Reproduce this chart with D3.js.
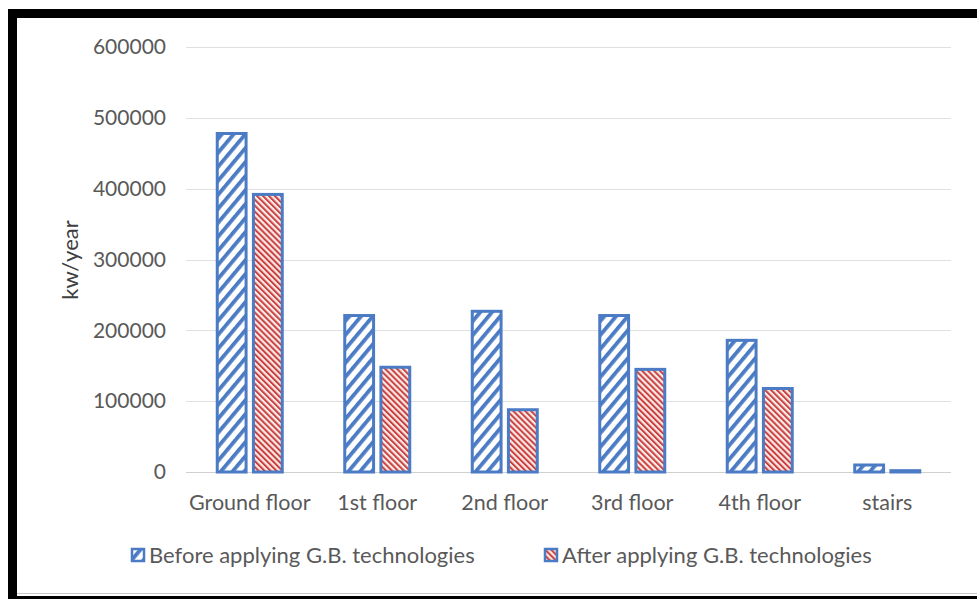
<!DOCTYPE html>
<html>
<head>
<meta charset="utf-8">
<script src="https://cdn.jsdelivr.net/npm/d3@7"></script>
<style>
  html, body { margin: 0; padding: 0; background: #fff; }
  svg { display: block; font-family: Lato, "Open Sans", sans-serif; }
</style>
</head>
<body>
<svg id="chart" width="977" height="599"></svg>
<script>
// Energy use per floor (kw/year), before and after G.B. technologies
const categories = ["Ground floor", "1st floor", "2nd floor", "3rd floor", "4th floor", "stairs"];
const seriesNames = ["Before applying G.B. technologies", "After applying G.B. technologies"];
const beforeValues = [480000, 223000, 229000, 223000, 188000, 12000];
const afterValues = [394000, 150000, 90000, 147000, 120000, 4000];
const yTicks = [0, 100000, 200000, 300000, 400000, 500000, 600000];

const svg = d3.select("#chart");
const W = 977, H = 599;

// frame
svg.append("rect").attr("x", 0).attr("y", 0).attr("width", W).attr("height", H).attr("fill", "#fff");
svg.append("rect").attr("x", 8).attr("y", 9).attr("width", W).attr("height", 9).attr("fill", "#000");
svg.append("rect").attr("x", 8).attr("y", 9).attr("width", 9).attr("height", H).attr("fill", "#000");
svg.append("rect").attr("x", 8).attr("y", 596).attr("width", W).attr("height", 4).attr("fill", "#000");
svg.append("line").attr("x1", 17).attr("x2", W).attr("y1", 593.5).attr("y2", 593.5).attr("stroke", "#c8c8c8").attr("stroke-width", 1);

// patterns
const defs = svg.append("defs");
const pBefore = defs.append("pattern").attr("id", "hatchBefore")
  .attr("patternUnits", "userSpaceOnUse").attr("width", 9).attr("height", 9)
  .attr("patternTransform", "rotate(40)");
pBefore.append("rect").attr("width", 9).attr("height", 9).attr("fill", "#fff");
pBefore.append("rect").attr("x", 0).attr("y", 0).attr("width", 3.8).attr("height", 9).attr("fill", "#4a7bc4");

const pAfter = defs.append("pattern").attr("id", "hatchAfter")
  .attr("patternUnits", "userSpaceOnUse").attr("width", 4.2).attr("height", 4.2)
  .attr("patternTransform", "rotate(-45)");
pAfter.append("rect").attr("width", 4.2).attr("height", 4.2).attr("fill", "#fbeaea");
pAfter.append("rect").attr("x", 0).attr("y", 0).attr("width", 2).attr("height", 4.2).attr("fill", "#c9403d");

const plot = { left: 186, right: 951, top: 47, bottom: 472 };

const x = d3.scaleBand().domain(categories).range([plot.left, plot.right]).paddingInner(0).paddingOuter(0);
const y = d3.scaleLinear().domain([0, 600000]).range([plot.bottom, plot.top]);
const inner = d3.scaleBand().domain(seriesNames).range([-34, 34]).paddingInner(0.12);

// gridlines
svg.append("g").selectAll("line").data(yTicks).join("line")
  .attr("x1", plot.left).attr("x2", plot.right)
  .attr("y1", d => Math.round(y(d)) + 0.5).attr("y2", d => Math.round(y(d)) + 0.5)
  .attr("stroke", d => d === 0 ? "#d0d0d0" : "#e0e0e0").attr("stroke-width", 1.2);

// y-axis tick labels
const yAxis = d3.axisLeft(y).tickValues(yTicks).tickFormat(d3.format("d")).tickSize(0).tickPadding(0);
const gy = svg.append("g").attr("transform", `translate(166,0)`).call(yAxis);
gy.select(".domain").remove();
gy.selectAll("text").attr("fill", "#595959").attr("font-size", 21).attr("font-family", "Lato, sans-serif");

// y-axis title
svg.append("text").attr("transform", "translate(78,260) rotate(-90)")
  .attr("text-anchor", "middle").attr("fill", "#404040").attr("font-size", 22)
  .text("kw/year");

// x-axis labels
const xAxis = d3.axisBottom(x).tickSize(0).tickPadding(0);
const gx = svg.append("g").attr("transform", `translate(0,${plot.bottom + 23})`).call(xAxis);
gx.select(".domain").remove();
gx.selectAll("text").attr("fill", "#595959").attr("font-size", 21.5).attr("font-family", "Lato, sans-serif")
  .attr("dy", "0.71em");

// bars
const rows = categories.map((c, i) => ({ c, vals: [beforeValues[i], afterValues[i]] }));
const groups = svg.append("g").selectAll("g").data(rows).join("g")
  .attr("transform", d => `translate(${x(d.c) + x.bandwidth() / 2},0)`);
groups.selectAll("rect").data(d => d.vals.map((v, k) => ({ v, s: seriesNames[k], k }))).join("rect")
  .attr("x", d => inner(d.s) + 1.5)
  .attr("width", inner.bandwidth() - 3)
  .attr("y", d => y(d.v) + 1.5)
  .attr("height", d => Math.max(0, y(0) - y(d.v) - 1.5))
  .attr("fill", d => d.k === 0 ? "url(#hatchBefore)" : "url(#hatchAfter)")
  .attr("stroke", "#4a7bc4").attr("stroke-width", 3);

// legend
const legend = svg.append("g");
const legendPos = [{ x: 131, tx: 149 }, { x: 544, tx: 562 }];
seriesNames.forEach((s, k) => {
  const g = legend.append("g");
  g.append("rect").attr("x", legendPos[k].x + 1).attr("y", 549).attr("width", 12).attr("height", 12)
    .attr("fill", k === 0 ? "url(#hatchBefore)" : "url(#hatchAfter)")
    .attr("stroke", "#4a7bc4").attr("stroke-width", 2.5);
  g.append("text").attr("x", legendPos[k].tx).attr("y", 563)
    .attr("fill", "#595959").attr("font-size", 22).text(s);
});
</script>
</body>
</html>
